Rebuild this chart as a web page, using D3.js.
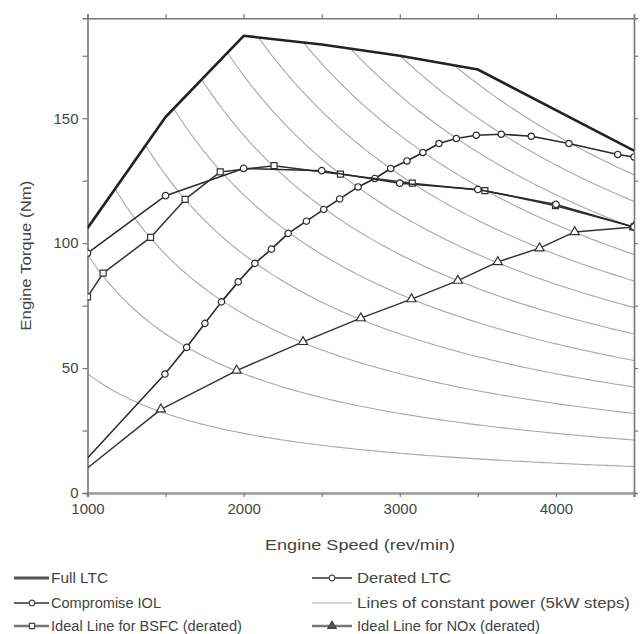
<!DOCTYPE html>
<html><head><meta charset="utf-8">
<script src="https://cdn.jsdelivr.net/npm/d3@7"></script>
<style>
body{margin:0;background:#fff}
text{font-family:"Liberation Sans",Arial,sans-serif}
</style>
</head><body>
<svg id="chart" width="640" height="634"></svg>
<script>
// ---- data ----
const xTicks = [1000, 2000, 3000, 4000];
const yTicks = [0, 50, 100, 150];
const fullLTC = [[1000,106],[1500,150.5],[2000,183],[2500,179.5],[3000,175],[3500,169.5],[4500,137]];
const deratedLTC = [[1000,96],[1500,119],[2000,129.9],[2500,129],[3000,124],[3500,121.5],[4000,115.5],[4500,106.5]];
const compromiseIOL = [[1000,14],[1496,47.6],[1635,58.3],[1752,67.9],[1858,76.5],[1965,84.5],[2072,91.9],[2178,97.6],[2285,103.9],[2402,108.8],[2513,113.5],[2615,117.7],[2733,122.5],[2840,125.9],[2942,129.9],[3046,132.9],[3148,136.3],[3251,139.9],[3362,141.9],[3490,143.2],[3650,143.6],[3842,142.8],[4083,139.9],[4396,135.5],[4500,134.5]];
const idealBSFC = [[1000,78.5],[1100,88],[1404,102.3],[1625,117.5],[1850,128.5],[2195,131],[2620,127.6],[3080,124],[3545,121],[3997,115],[4500,106.5]];
const idealNOx = [[1000,10],[1470,33.5],[1955,49],[2380,60.5],[2750,70],[3075,77.6],[3372,85],[3628,92.5],[3895,98],[4120,104.5],[4500,106.5]];
const powerLevelsKW = [5,10,15,20,25,30,35,40,45,50,55,60];
const legendLabels = ["Full LTC","Derated LTC","Compromise IOL","Lines of constant power (5kW steps)","Ideal Line for BSFC (derated)","Ideal Line for NOx (derated)"];
const legendKeys = ["full","derated","iol","power","bsfc","nox"];

// ---- layout ----
const legendTextWidths = [57, 94, 110, 273, 191, 183];
const svg = d3.select("#chart");
const L = 87.5, R = 634, T = 18.3, B = 493;
const x = d3.scaleLinear().domain([1000,4500]).range([L,R]);
const y = d3.scaleLinear().domain([0,190]).range([B,T]);
const axisCol = "#777", textCol = "#444";

const defs = svg.append("defs");
defs.append("clipPath").attr("id","underLTC").append("path")
  .attr("d", d3.line().x(d=>x(d[0])).y(d=>y(d[1]))([[1000,0],...fullLTC,[4500,0]]) + "Z");
defs.append("clipPath").attr("id","plotArea").append("rect")
  .attr("x",L).attr("y",T).attr("width",R-L).attr("height",B-T);

const line = d3.line().x(d=>x(d[0])).y(d=>y(d[1]));

// constant power lines (T = P / omega)
const speeds = d3.range(1000, 4501, 25);
const gP = svg.append("g").attr("clip-path","url(#underLTC)");
powerLevelsKW.forEach(p=>{
  const pts = speeds.map(n=>[n, p*60000/(2*Math.PI*n)]);
  gP.append("path").attr("d", line(pts)).attr("fill","none")
    .attr("stroke","#a8a8a8").attr("stroke-width",1.1);
});

// axes
const gx = svg.append("g").attr("transform",`translate(0,${B})`)
  .call(d3.axisBottom(x).tickValues(d3.range(1000,4501,500)).tickSize(4).tickFormat(d=>xTicks.includes(d)?d:""));
const gxt = svg.append("g").attr("transform",`translate(0,${T})`)
  .call(d3.axisTop(x).tickValues(d3.range(1000,4501,500)).tickSize(4).tickFormat(""));
const gy = svg.append("g").attr("transform",`translate(${L},0)`)
  .call(d3.axisLeft(y).tickValues(d3.range(0,176,25)).tickSize(5).tickFormat(d=>yTicks.includes(d)?d:""));
const gyr = svg.append("g").attr("transform",`translate(${R},0)`)
  .call(d3.axisRight(y).tickValues(d3.range(25,176,25)).tickSize(4).tickFormat(""));
[gx,gxt,gy,gyr].forEach(g=>{
  g.select(".domain").attr("stroke",axisCol).attr("stroke-width",1.6);
  g.selectAll(".tick line").attr("stroke",axisCol).attr("stroke-width",1.2);
  g.selectAll("text").attr("fill",textCol).style("font-size","15px").style("font-family","'Liberation Sans',Arial,sans-serif");
});
gx.select(".domain").attr("stroke","#999").attr("stroke-width",2.6);
gx.selectAll("text").attr("dy","0.95em");
gy.selectAll("text").attr("dx","-1px");

// axis titles
svg.append("text").attr("x",360).attr("y",550).attr("text-anchor","middle")
  .attr("fill",textCol).style("font-size","15px").attr("textLength",190).attr("lengthAdjust","spacingAndGlyphs")
  .text("Engine Speed (rev/min)");
svg.append("text").attr("transform",`translate(31,${(T+B)/2}) rotate(-90)`).attr("text-anchor","middle")
  .attr("fill",textCol).style("font-size","15px").attr("textLength",150).attr("lengthAdjust","spacingAndGlyphs")
  .text("Engine Torque (Nm)");

// series
const styles = {
  full:{stroke:"#222", width:2.6, symbol:null},
  derated:{stroke:"#2a2a2a", width:1.5, symbol:d3.symbolCircle, size:34},
  iol:{stroke:"#2a2a2a", width:1.6, symbol:d3.symbolCircle, size:32},
  power:{stroke:"#a8a8a8", width:1.1, symbol:null},
  bsfc:{stroke:"#333", width:1.5, symbol:d3.symbolSquare, size:36},
  nox:{stroke:"#333", width:1.5, symbol:d3.symbolTriangle, size:36}
};
const gS = svg.append("g").attr("clip-path","url(#plotArea)");
function drawSeries(data, key, skipFirst){
  const s = styles[key];
  gS.append("path").attr("d", line(data)).attr("fill","none")
    .attr("stroke", s.stroke).attr("stroke-width", s.width).attr("stroke-linejoin","round");
  if (s.symbol){
    const pts = skipFirst ? data.slice(1) : data;
    gS.selectAll(null).data(pts).enter().append("path")
      .attr("transform", d=>`translate(${x(d[0])},${y(d[1])})`)
      .attr("d", d3.symbol().type(s.symbol).size(s.size))
      .attr("fill","#fff").attr("stroke", s.stroke).attr("stroke-width",1.2);
  }
}
drawSeries(idealNOx, "nox", true);
drawSeries(compromiseIOL, "iol", true);
drawSeries(idealBSFC, "bsfc", false);
drawSeries(deratedLTC, "derated", false);
drawSeries(fullLTC, "full", false);

// legend
const legCols = [14, 312], legRows = [578, 603, 626], legTextX = [37, 45];
legendLabels.forEach((label,i)=>{
  const key = legendKeys[i];
  const cx = legCols[i%2], cy = legRows[Math.floor(i/2)];
  const s = styles[key];
  const g = svg.append("g").attr("transform",`translate(${cx},${cy})`);
  let lw = s.width, lc = s.stroke;
  if (key==="full"){ lw = 3; lc="#555"; }
  if (key==="bsfc"||key==="nox"){ lw = 2.6; lc="#777"; }
  if (key==="derated"||key==="iol"){ lc="#333"; lw=1.4; }
  g.append("line").attr("x1",0).attr("x2",i%2 ? 40 : 35).attr("y1",0).attr("y2",0)
    .attr("stroke",lc).attr("stroke-width",lw);
  if (s.symbol){
    g.append("path").attr("transform",`translate(${i%2 ? 20 : 18},0)`)
      .attr("d", d3.symbol().type(s.symbol).size(key==="nox"?30:26))
      .attr("fill", key==="nox"?"#555":"#fff").attr("stroke", "#444").attr("stroke-width",1.2);
  }
  g.append("text").attr("x",legTextX[i%2]).attr("y",5).attr("fill",textCol)
    .style("font-size","14px").attr("textLength",legendTextWidths[i]).attr("lengthAdjust","spacingAndGlyphs")
    .text(label);
});
</script>
</body></html>
